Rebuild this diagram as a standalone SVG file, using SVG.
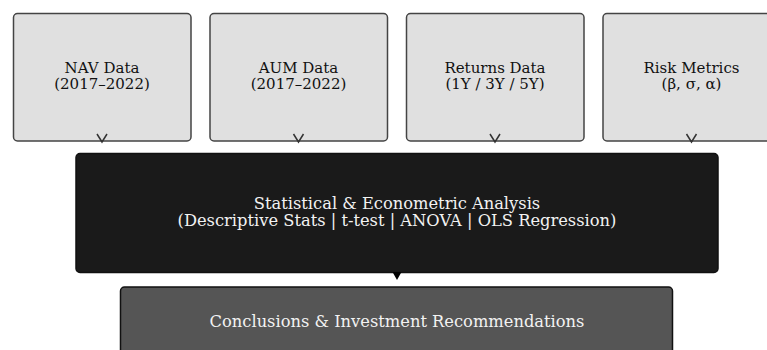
<svg xmlns="http://www.w3.org/2000/svg" width="767" height="350" viewBox="0 0 767 350">
  <style>
    .src rect { fill: #e0e0e0; stroke: #444444; stroke-width: 1.5; }
    .src text { fill: #111111; font-family: "DejaVu Serif", serif; font-size: 15px; text-anchor: middle; }
    .dark text { fill: #f2f2f2; font-family: "DejaVu Serif", serif; font-size: 16.3px; text-anchor: middle; }
    .open { fill: none; stroke: #333333; stroke-width: 1.5; stroke-linejoin: miter; }
  </style>
  <rect width="767" height="350" fill="#ffffff"/>

  <g id="nav-data" class="src">
    <rect x="13.5" y="13.5" width="177.5" height="127.5" rx="4"/>
    <text x="102" y="73">NAV Data</text>
    <text x="102" y="89">(2017–2022)</text>
  </g>
  <g id="aum-data" class="src">
    <rect x="210" y="13.5" width="177.5" height="127.5" rx="4"/>
    <text x="298.5" y="73">AUM Data</text>
    <text x="298.5" y="89">(2017–2022)</text>
  </g>
  <g id="returns-data" class="src">
    <rect x="406.5" y="13.5" width="177.5" height="127.5" rx="4"/>
    <text x="495" y="73">Returns Data</text>
    <text x="495" y="89">(1Y / 3Y / 5Y)</text>
  </g>
  <g id="risk-metrics" class="src">
    <rect x="603" y="13.5" width="177.5" height="127.5" rx="4"/>
    <text x="691.5" y="73">Risk Metrics</text>
    <text x="691.5" y="89">(β, σ, α)</text>
  </g>

  <g id="analysis" class="dark">
    <rect x="76" y="153.5" width="642" height="119" rx="4" fill="#1a1a1a" stroke="#111111" stroke-width="1.5"/>
    <text x="397" y="209">Statistical &amp; Econometric Analysis</text>
    <text x="397" y="226">(Descriptive Stats | t-test | ANOVA | OLS Regression)</text>
  </g>

  <g id="conclusions" class="dark">
    <rect x="120.5" y="287" width="552" height="80" rx="4" fill="#555555" stroke="#111111" stroke-width="1.5"/>
    <text x="397" y="327">Conclusions &amp; Investment Recommendations</text>
  </g>

  <g id="connectors">
    <path class="open" d="M97,134 L102,142 L107,134"/>
    <path class="open" d="M293.5,134 L298.5,142 L303.5,134"/>
    <path class="open" d="M490,134 L495,142 L500,134"/>
    <path class="open" d="M686.5,134 L691.5,142 L696.5,134"/>
    <path d="M392.5,272 L401.5,272 L397,280 Z" fill="#000000"/>
  </g>
</svg>
